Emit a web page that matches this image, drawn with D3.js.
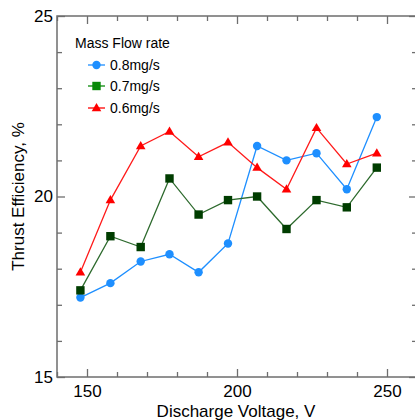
<!DOCTYPE html>
<html>
<head>
<meta charset="utf-8">
<script src="https://cdn.jsdelivr.net/npm/d3@7"></script>
<style>
  body { margin: 0; background: #fff; }
  svg { display: block; font-family: "Liberation Sans", Arial, sans-serif; }
</style>
</head>
<body>
<script>
// data
var voltage = [147.8, 157.8, 167.9, 177.5, 187.2, 197, 206.7, 216.5, 226.5, 236.6, 246.6];
var eff08 = [17.2, 17.6, 18.2, 18.4, 17.9, 18.7, 21.4, 21.0, 21.2, 20.2, 22.2];
var eff07 = [17.4, 18.9, 18.6, 20.5, 19.5, 19.9, 20.0, 19.1, 19.9, 19.7, 20.8];
var eff06 = [17.9, 19.9, 21.4, 21.8, 21.1, 21.5, 20.8, 20.2, 21.9, 20.9, 21.2];
var seriesNames = ["0.8mg/s", "0.7mg/s", "0.6mg/s"];
var xMajor = [150, 200, 250];
var yMajor = [15, 20, 25];

var w = 415, h = 420;
var padL = 57, padT = 16, padR = 417, padB = 377;

var x = d3.scaleLinear().domain([140, 260]).range([padL, padR]);
var y = d3.scaleLinear().domain([15, 25]).range([padB, padT]);

var svg = d3.select("body").append("svg")
  .attr("width", w)
  .attr("height", h);

var axisCol = "#6e6e6e";
var xMinor = d3.range(140, 261, 10).filter(function(d) { return xMajor.indexOf(d) < 0; });
var yMinor = d3.range(15, 25.1, 1).filter(function(d) { return yMajor.indexOf(d) < 0; });

function styleAxis(g) {
  g.select(".domain").remove();
  g.selectAll("line").attr("stroke", axisCol).attr("stroke-width", 1.3);
  g.selectAll("text").attr("font-size", 17).attr("fill", "#000")
    .attr("font-family", "'Liberation Sans', Arial, sans-serif");
}

// bottom
svg.append("g").attr("transform", "translate(0," + padB + ")")
  .call(d3.axisBottom(x).tickValues(xMinor).tickSize(-5).tickFormat("")).call(styleAxis);
svg.append("g").attr("transform", "translate(0," + padB + ")")
  .call(d3.axisBottom(x).tickValues(xMajor).tickSize(-8).tickPadding(8).tickFormat(d3.format("d"))).call(styleAxis);
// top
svg.append("g").attr("transform", "translate(0," + padT + ")")
  .call(d3.axisTop(x).tickValues(xMinor).tickSize(-5).tickFormat("")).call(styleAxis);
svg.append("g").attr("transform", "translate(0," + padT + ")")
  .call(d3.axisTop(x).tickValues(xMajor).tickSize(-8).tickFormat("")).call(styleAxis);
// left
svg.append("g").attr("transform", "translate(" + padL + ",0)")
  .call(d3.axisLeft(y).tickValues(yMinor).tickSize(-5).tickFormat("")).call(styleAxis);
svg.append("g").attr("transform", "translate(" + padL + ",0)")
  .call(d3.axisLeft(y).tickValues(yMajor).tickSize(-8).tickPadding(4).tickFormat(d3.format("d"))).call(styleAxis);
// right
svg.append("g").attr("transform", "translate(" + padR + ",0)")
  .call(d3.axisRight(y).tickValues(yMinor).tickSize(-5).tickFormat("")).call(styleAxis);
svg.append("g").attr("transform", "translate(" + padR + ",0)")
  .call(d3.axisRight(y).tickValues(yMajor).tickSize(-8).tickFormat("")).call(styleAxis);

// frame
svg.append("rect")
  .attr("x", padL).attr("y", padT)
  .attr("width", padR - padL).attr("height", padB - padT)
  .attr("fill", "none").attr("stroke", axisCol).attr("stroke-width", 1.5);

// axis titles
svg.append("text")
  .attr("x", 236).attr("y", 417)
  .attr("text-anchor", "middle")
  .attr("font-size", 17)
  .text("Discharge Voltage, V");

svg.append("text")
  .attr("transform", "translate(24," + y(20) + ") rotate(-90)")
  .attr("text-anchor", "middle")
  .attr("font-size", 17)
  .text("Thrust Efficiency, %");

// markers
function drawMarker(g, type, fill, cx, cy) {
  if (type == "circle") {
    g.append("circle").attr("cx", cx).attr("cy", cy).attr("r", 4.2).attr("fill", fill);
  } else if (type == "square") {
    g.append("rect").attr("x", cx - 4.2).attr("y", cy - 4.2)
      .attr("width", 8.4).attr("height", 8.4).attr("fill", fill);
  } else {
    g.append("path")
      .attr("d", "M" + cx + "," + (cy - 5) + "L" + (cx + 4.8) + "," + (cy + 3.2) + "L" + (cx - 4.8) + "," + (cy + 3.2) + "Z")
      .attr("fill", fill);
  }
}

var series = [
  { name: seriesNames[0], values: eff08, line: "#1e8fff", fill: "#1e8fff", legendFill: "#1e8fff", type: "circle" },
  { name: seriesNames[1], values: eff07, line: "#2d6a2d", fill: "#003d00", legendFill: "#0a8a0a", type: "square" },
  { name: seriesNames[2], values: eff06, line: "#ff1a1a", fill: "#ff0000", legendFill: "#ff0000", type: "triangle" }
];

var line = d3.line()
  .x(function(d, i) { return x(voltage[i]); })
  .y(function(d) { return y(d); });

series.forEach(function(s) {
  var g = svg.append("g");
  g.append("path")
    .attr("d", line(s.values))
    .attr("fill", "none")
    .attr("stroke", s.line)
    .attr("stroke-width", 1.3);
  s.values.forEach(function(v, i) {
    drawMarker(g, s.type, s.fill, x(voltage[i]), y(v));
  });
});

// legend
var legend = svg.append("g").attr("font-size", 14);
legend.append("text").attr("x", 75).attr("y", 48).text("Mass Flow rate");
var legendY = [65, 86, 108];
series.forEach(function(s, i) {
  var ly = legendY[i];
  legend.append("line")
    .attr("x1", 88).attr("x2", 105).attr("y1", ly).attr("y2", ly)
    .attr("stroke", s.legendFill).attr("stroke-width", 1.3);
  drawMarker(legend, s.type, s.legendFill, 96.5, ly);
  legend.append("text").attr("x", 110).attr("y", ly + 5).text(s.name);
});
</script>
</body>
</html>
